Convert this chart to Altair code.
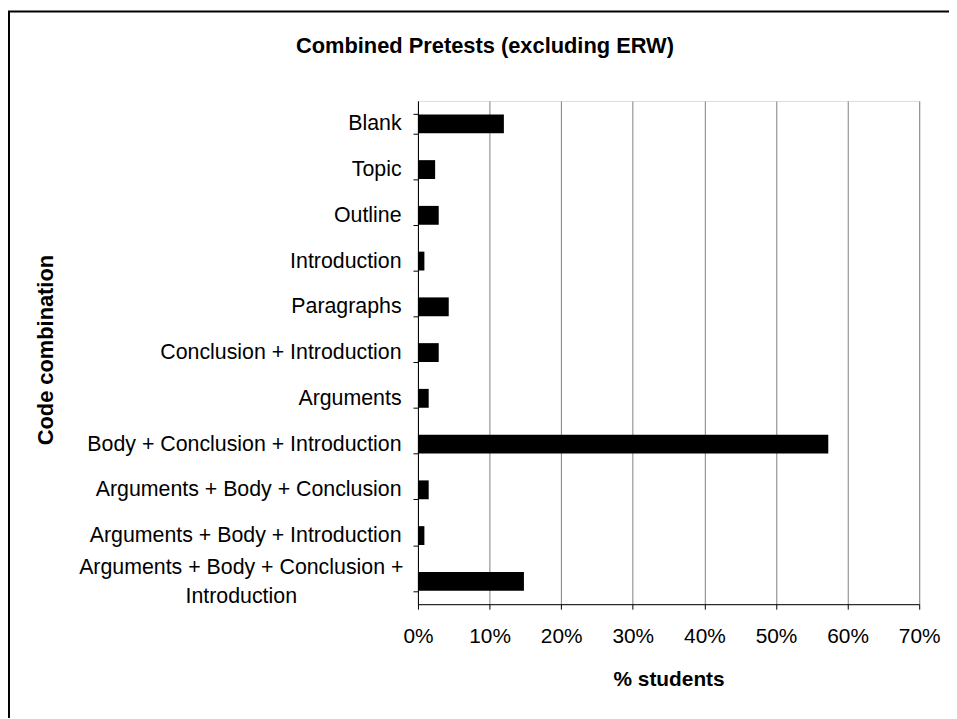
import altair as alt
import pandas as pd

categories = [
    "Blank",
    "Topic",
    "Outline",
    "Introduction",
    "Paragraphs",
    "Conclusion + Introduction",
    "Arguments",
    "Body + Conclusion + Introduction",
    "Arguments + Body + Conclusion",
    "Arguments + Body + Introduction",
    "Arguments + Body + Conclusion +|Introduction",
]
percent_students = [12.0, 2.4, 2.9, 0.9, 4.3, 2.9, 1.5, 57.3, 1.5, 0.9, 14.8]
x_ticks = [0, 10, 20, 30, 40, 50, 60, 70]

df = pd.DataFrame({"category": categories, "pct": percent_students})

W, H = 505, 507
PL, PT = 413, 91
FONT = "Liberation Sans"
FS = 21.5

y_enc = alt.Y(
    "category:N",
    sort=categories,
    scale=alt.Scale(paddingInner=0.58, paddingOuter=0.29),
    axis=alt.Axis(
        title="Code combination",
        titleFont=FONT,
        titleFontSize=22,
        titleFontWeight="bold",
        titleColor="black",
        titleAngle=-90,
        titleX=-375,
        titleY=H / 2 - 3,
        titleAlign="center",
        titleBaseline="middle",
        labelFont=FONT,
        labelFontSize=FS,
        labelColor="black",
        labelPadding=12,
        labelLimit=0,
        labelExpr="indexof(datum.label, '|') >= 0 ? '' : datum.label",
        tickBand="extent",
        tickSize=5,
        tickColor="black",
        domainColor="black",
        grid=False,
    ),
)

bars = alt.Chart(df).mark_bar(color="black", size=19).encode(
    y=y_enc,
    x=alt.X(
        "pct:Q",
        scale=alt.Scale(domain=[0, 70], nice=False),
        axis=alt.Axis(
            title="% students",
            values=x_ticks,
            labelExpr="datum.value + '%'",
            labelFlush=False,
            titleFont=FONT,
            titleFontSize=21,
            titleFontWeight="bold",
            titleColor="black",
            titlePadding=22,
            labelFont=FONT,
            labelFontSize=21,
            labelColor="black",
            labelPadding=17,
            tickSize=5,
            tickColor="black",
            domainColor="black",
            grid=True,
            gridColor="#808080",
            gridWidth=1,
        ),
    ),
)

wrapped_label = alt.Chart(df).transform_filter(
    "indexof(datum.category, '|') >= 0"
).mark_text(
    font=FONT, fontSize=FS, color="black", align="center", baseline="middle",
    lineBreak="|", lineHeight=29, dy=-13,
).encode(
    y=alt.Y("category:N", sort=categories),
    x=alt.value(-178),
    text="category:N",
)

frame = alt.Chart(alt.Data(values=[{"f": 1}])).mark_rect(
    fill="transparent", stroke="black", strokeWidth=2
).encode(
    x=alt.value(-PL + 1),
    x2=alt.value(W + 200),
    y=alt.value(-PT + 1),
    y2=alt.value(H + 300),
)

chart = alt.layer(frame, bars, wrapped_label).properties(
    width=W,
    height=H,
    padding={"left": PL, "top": PT, "right": 30, "bottom": 112},
    autosize=alt.AutoSizeParams(type="none"),
    title=alt.Title(
        "Combined Pretests (excluding ERW)",
        font=FONT,
        fontSize=22,
        fontWeight="bold",
        color="black",
        anchor="middle",
        frame="group",
        dx=-185,
        dy=48,
        offset=0,
    ),
).configure_view(stroke=None).configure(background="white")

chart.save("out.html", embed_options={"renderer": "svg", "actions": False})
